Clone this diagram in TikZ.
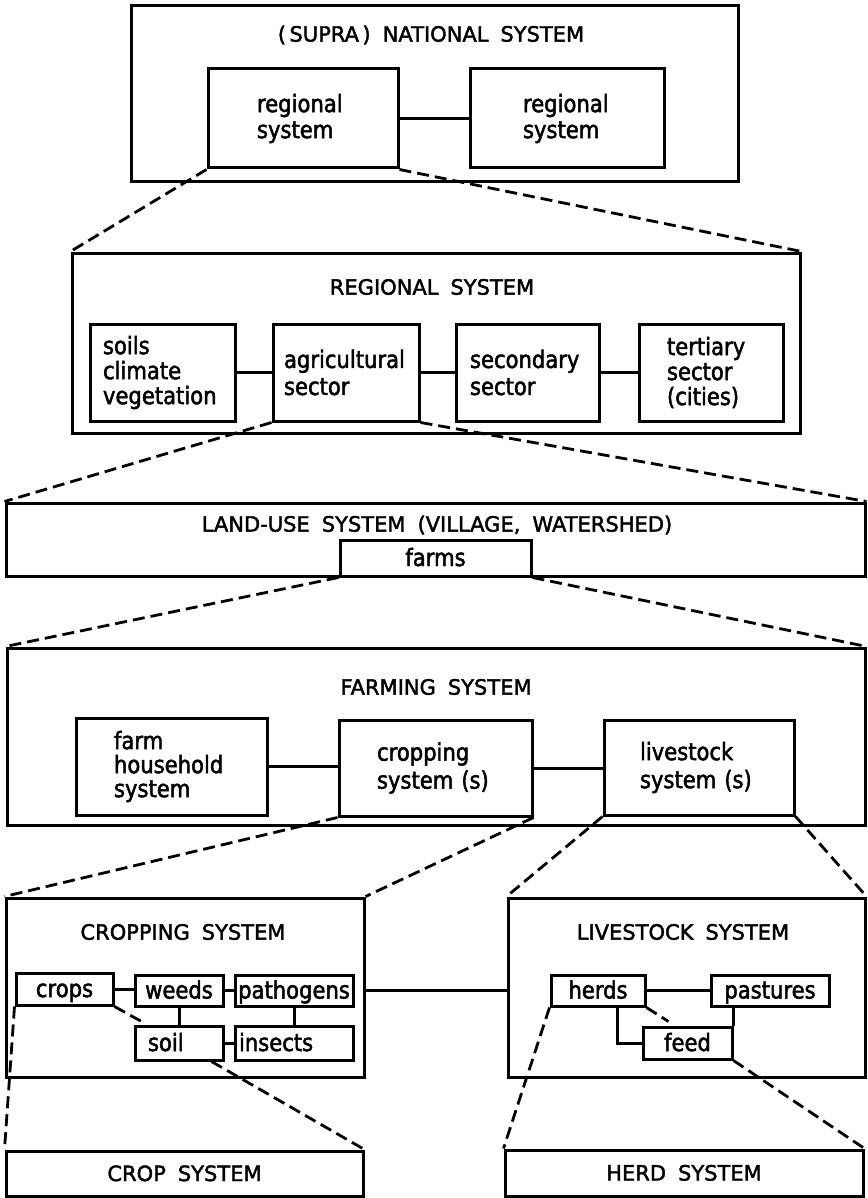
\documentclass[tikz,border=0pt]{standalone}
\usepackage{fontspec}
\setmainfont{DejaVu Sans}[FakeStretch=0.88, FakeBold=2]
\newfontfamily\capsfont{DejaVu Sans}[WordSpace=1.8, FakeBold=2]
\usetikzlibrary{calc}
\begin{document}
\begin{tikzpicture}[x=1pt,y=-1pt,
  every node/.style={font=\fontsize{24}{25}\selectfont},
  boxframe/.style={draw, line width=3pt, inner sep=0pt},
  unit/.style={boxframe, align=left},
  oneline/.style={boxframe, text height=16pt, text depth=0pt},
  heading/.style={font=\fontsize{21}{25}\selectfont\capsfont, inner sep=0pt},
  joint/.style={line width=3pt},
  zoomline/.style={line width=2.8pt, dash pattern=on 12pt off 6pt},
]
\useasboundingbox (0,0) rectangle (867,1198);

% ---------- (supra) national level ----------
\node[boxframe, minimum width=607pt, minimum height=176pt] (national) at (434.5,94) {};
\node[heading] (nationalT) at (431,35) {(\,SUPRA\,) NATIONAL SYSTEM};
\node[unit, minimum width=190pt, minimum height=99pt, text width=92pt, inner xsep=49pt] (reg1) at (303,118.5) {regional\\[1pt]system};
\node[unit, minimum width=194pt, minimum height=99pt, text width=88pt, inner xsep=53pt] (reg2) at (567,118.5) {regional\\[1pt]system};
\draw[joint] (reg1) -- (reg2);

% ---------- regional level ----------
\node[boxframe, minimum width=728pt, minimum height=180pt] (regional) at (436,343) {};
\node[heading] (regionalT) at (432,287) {REGIONAL SYSTEM};
\node[unit, minimum width=145pt, minimum height=97pt, text width=119pt, inner xsep=13pt] (soils) at (162.5,372.5) {soils\\climate\\vegetation};
\node[unit, minimum width=146pt, minimum height=97pt, text width=124pt, inner xsep=11pt] (agri) at (346,372.5) {agricultural\\[2pt]sector};
\node[unit, minimum width=143pt, minimum height=97pt, text width=115pt, inner xsep=14pt] (secondary) at (527.5,372.5) {secondary\\[2pt]sector};
\node[unit, minimum width=144pt, minimum height=97pt, text width=88pt, inner xsep=28pt] (tertiary) at (711,372.5) {tertiary\\sector\\(cities)};
\draw[joint] (soils) -- (agri);
\draw[joint] (agri) -- (secondary);
\draw[joint] (secondary) -- (tertiary);
\draw[zoomline] (reg1.south west) -- (regional.north west);
\draw[zoomline] (reg1.south east) -- (regional.north east);

% ---------- land-use level ----------
\node[boxframe, minimum width=859pt, minimum height=73pt] (landuse) at (435.5,539.5) {};
\node[heading] (landuseT) at (437,525) {LAND-USE SYSTEM (VILLAGE, WATERSHED)};
\node[oneline, minimum width=191pt, minimum height=36pt] (farms) at (435.5,558) {farms};
\draw[zoomline] (agri.south west) -- (landuse.north west);
\draw[zoomline] (agri.south east) -- (landuse.north east);

% ---------- farming level ----------
\node[boxframe, minimum width=858pt, minimum height=177pt] (farming) at (436,736.5) {};
\node[heading] (farmingT) at (436,687) {FARMING SYSTEM};
\node[unit, minimum width=191pt, minimum height=97pt, text width=115pt, inner xsep=38pt] (household) at (171.5,766.5) {farm\\[-1pt]household\\[-1pt]system};
\node[unit, minimum width=193pt, minimum height=96pt, text width=117pt, inner xsep=38pt] (cropping) at (435.5,768) {cropping\\[3pt]system (s)};
\node[unit, minimum width=190pt, minimum height=95pt, text width=118pt, inner xsep=36pt] (livestock) at (699,767.5) {livestock\\[3pt]system (s)};
\draw[joint] (household.east) -- (household.east -| cropping.west);
\draw[joint] (cropping.east) -- (cropping.east -| livestock.west);
\draw[zoomline] (farms.south west) -- (farming.north west);
\draw[zoomline] (farms.south east) -- (farming.north east);

% ---------- cropping and livestock systems ----------
\node[boxframe, minimum width=358pt, minimum height=179pt] (cropsys) at (185,987.5) {};
\node[heading] (cropsysT) at (183,932) {CROPPING SYSTEM};
\node[boxframe, minimum width=357pt, minimum height=179pt] (livesys) at (686.5,987.5) {};
\node[heading] (livesysT) at (683,932) {LIVESTOCK SYSTEM};
\draw[zoomline] (cropping.south west) -- (cropsys.north west);
\draw[zoomline] (cropping.south east) -- (cropsys.north east);
\draw[zoomline] (livestock.south west) -- (livesys.north west);
\draw[zoomline] (livestock.south east) -- (livesys.north east);

\node[oneline, minimum width=97pt, minimum height=32pt] (crops) at (64.5,989) {crops};
\node[oneline, minimum width=88pt, minimum height=31pt] (weeds) at (179,990.5) {weeds};
\node[oneline, minimum width=118pt, minimum height=31pt] (pathogens) at (294,990.5) {pathogens};
\node[oneline, align=left, minimum width=88pt, minimum height=34pt, text width=62pt, inner xsep=13pt] (soil) at (179,1043) {soil};
\node[oneline, align=left, minimum width=118pt, minimum height=34pt, text width=110pt, inner xsep=4pt] (insects) at (294,1043) {insects};
\draw[joint] (crops.east) -- (crops.east -| weeds.west);
\draw[joint] (weeds) -- (pathogens);
\draw[joint] (weeds) -- (soil);
\draw[joint] (pathogens) -- (insects);
\draw[joint] (soil) -- (insects);
\draw[zoomline] (crops.south east) -- ($(soil.north west)+(8,-3)$);

\node[oneline, minimum width=94pt, minimum height=31pt] (herds) at (598,990.5) {herds};
\node[oneline, minimum width=118pt, minimum height=31pt] (pastures) at (770,990.5) {pastures};
\node[oneline, minimum width=89pt, minimum height=32pt] (feed) at (687.5,1043) {feed};
\draw[joint] (herds) -- (pastures);
\draw[joint] (feed.north east) -- (feed.north east |- pastures.south);
\draw[joint] ($(herds.south west)+(68,0)$) |- (feed.west);
\draw[zoomline] (herds.south east) -- ($(feed.north west)+(27,-4)$);

\draw[joint] (cropsys.east |- pathogens) -- (livesys.west |- pathogens);

% ---------- crop and herd systems ----------
\node[boxframe, minimum width=357pt, minimum height=45pt, text height=15pt, text depth=0pt, font=\fontsize{21}{25}\selectfont\capsfont] (cropsub) at (184.5,1173.5) {CROP SYSTEM};
\node[boxframe, minimum width=358pt, minimum height=46pt, text height=15pt, text depth=0pt, font=\fontsize{21}{25}\selectfont\capsfont] (herdsub) at (684,1173) {HERD SYSTEM};
\draw[zoomline] (crops.south west) -- (cropsub.north west);
\draw[zoomline] ($(soil.south east)+(-13,0)$) -- (cropsub.north east);
\draw[zoomline] (herds.south west) -- (herdsub.north west);
\draw[zoomline] (feed.south east) -- (herdsub.north east);
\end{tikzpicture}
\end{document}
